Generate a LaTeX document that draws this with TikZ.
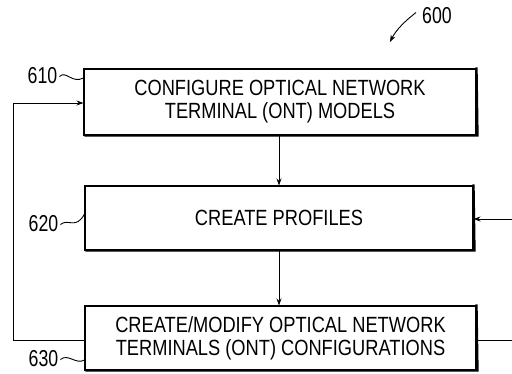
\documentclass[tikz,border=0pt]{standalone}
\usepackage{fontspec}
\setmainfont{Liberation Sans}
\newfontfamily\boxfont[FakeStretch=0.83]{Liberation Sans}
\newfontfamily\lblfont[FakeStretch=0.77]{Liberation Sans}
\usetikzlibrary{arrows.meta}
\begin{document}
\begin{tikzpicture}[x=1pt,y=-1pt,
  stepbox/.style={draw,line width=1.1pt,minimum width=#1,align=center,font=\boxfont\fontsize{22}{23}\selectfont,inner sep=0pt},
  conn/.style={line width=0.9pt,-{Stealth[length=7pt,width=5pt]}},
  plain/.style={line width=0.9pt},
  lbl/.style={font=\lblfont\fontsize{23}{24}\selectfont,inner sep=0pt}]
\useasboundingbox (0,0) rectangle (512,373);
\node[stepbox=392pt,minimum height=66pt] (b610) at (280,102) {CONFIGURE OPTICAL NETWORK\\TERMINAL (ONT) MODELS};
\node[stepbox=388pt,minimum height=64pt] (b620) at (279,218) {CREATE PROFILES};
\node[stepbox=391pt,minimum height=64pt] (b630) at (280.5,338) {CREATE/MODIFY OPTICAL NETWORK\\TERMINALS (ONT) CONFIGURATIONS};
% shadows
\foreach \b in {b610,b620,b630}{
  \draw[line width=2.2pt] ([xshift=1pt]\b.south west) -- ([xshift=1pt]\b.south east) -- ([yshift=1pt]\b.north east);
}
\coordinate (t1) at (279,135);
\draw[conn] (b610.south -| t1) -- (b620.north -| t1);
\draw[conn] (b620.south -| t1) -- (b630.north -| t1);
\coordinate (L1) at (13,340);
\coordinate (L2) at (13,103);
\draw[conn] (b630.west |- L1) -- (L1) -- (L2) -- (b610.west |- L2);
\coordinate (R1) at (512,219);
\coordinate (R2) at (512,340);
\draw[conn] (R1) -- (b620.east |- R1);
\draw[plain] (b630.east |- R2) -- (R2);
% labels
\node[lbl] (n610) at (42.5,75.5) {610};
\draw[plain] (n610.east) ++(2,1) .. controls (66,70) and (72,84) .. (b610.north west |- 0,78);
\node[lbl] (n620) at (43.5,223.5) {620};
\draw[plain] (n620.east) ++(2,1) .. controls (68,218) and (76,230) .. ([yshift=4pt]b620.west);
\node[lbl] (n630) at (43.5,358.5) {630};
\draw[plain] (n630.east) ++(2,1) .. controls (68,353) and (76,365) .. (b630.south west |- 0,360);
\node[lbl] (n600) at (437,15.5) {600};
\coordinate (a600) at (390,42);
\draw[conn] ([xshift=-6pt,yshift=3pt]n600.west) .. controls (405,21) and (396,30) .. (a600);
\end{tikzpicture}
\end{document}
